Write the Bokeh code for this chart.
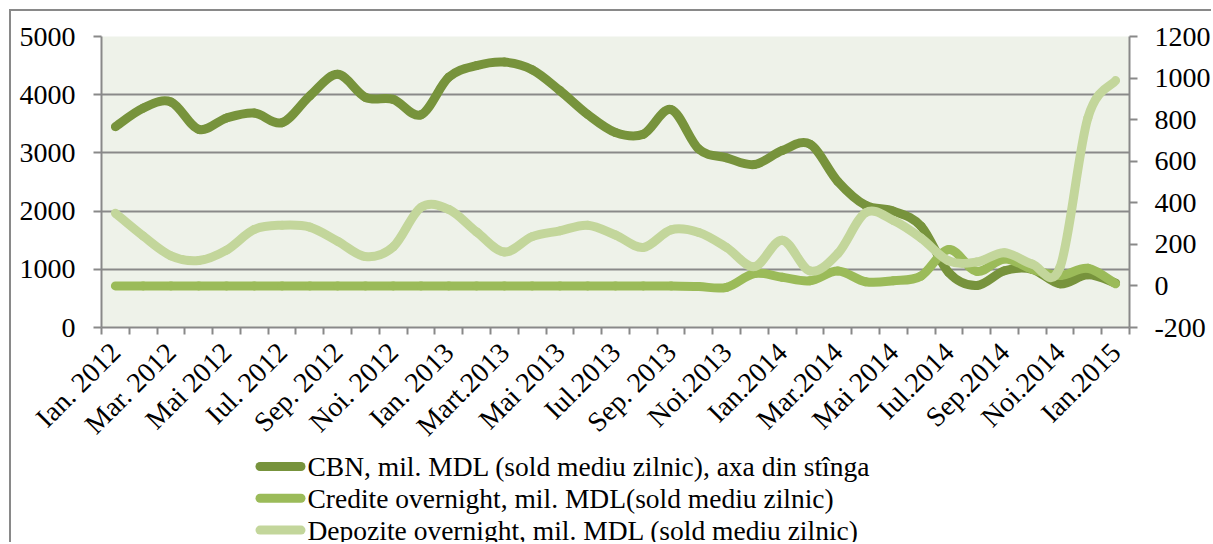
import math
from bokeh.plotting import figure
from bokeh.layouts import column
from bokeh.models import Range1d, LinearAxis, FixedTicker, ColumnDataSource
from bokeh.core.properties import value
from bokeh.embed import file_html
from bokeh.resources import INLINE

# ---------------- data ----------------
tick_labels = ["Ian. 2012", "Mar. 2012", "Mai 2012", "Iul. 2012", "Sep. 2012", "Noi. 2012",
               "Ian. 2013", "Mart.2013", "Mai 2013", "Iul.2013", "Sep. 2013", "Noi.2013",
               "Ian.2014", "Mar.2014", "Mai 2014", "Iul.2014", "Sep.2014", "Noi.2014", "Ian.2015"]

cbn = [3450, 3770, 3875, 3405, 3600, 3685, 3520, 3980, 4350, 3955, 3920, 3655,
       4300, 4500, 4560, 4430, 4070, 3660, 3350, 3320, 3745, 3065, 2915, 2800,
       3040, 3150, 2510, 2100, 2000, 1740, 940, 720, 975, 1000, 750, 905, 765]

credite = [0, 0, 0, 0, 0, 0, 0, 0, 0, 0, 0, 0,
           0, 0, 0, 0, 0, 0, 0, 0, 0, -3, -7, 60,
           42, 25, 72, 20, 25, 48, 175, 70, 130, 80, 50, 85, 10]

depozite = [350, 240, 145, 122, 172, 272, 292, 283, 215, 141, 188, 378,
            368, 260, 163, 237, 265, 292, 245, 185, 270, 257, 185, 93,
            220, 72, 155, 352, 315, 230, 120, 115, 160, 105, 90, 808, 988]

left_ticks = [0, 1000, 2000, 3000, 4000, 5000]
right_ticks = [-200, 0, 200, 400, 600, 800, 1000, 1200]

series_names = ["CBN, mil. MDL (sold mediu zilnic), axa din stînga",
                "Credite overnight, mil. MDL(sold mediu zilnic)",
                "Depozite overnight, mil. MDL (sold mediu zilnic)"]
colors = ["#77933C", "#9BBB59", "#C3D69B"]

n = len(cbn)
FONT = "Liberation Serif"
GRAY = "#898989"
W = 1202
MAIN_H = 444
LEG_H = 89
B_LEFT, B_RIGHT = 90, 84

p = figure(width=W, height=MAIN_H, output_backend="svg", toolbar_location=None,
           x_range=Range1d(0, n), y_range=Range1d(0, 5000),
           min_border_left=B_LEFT, min_border_right=B_RIGHT, min_border_top=25, min_border_bottom=118)
p.styles = {"margin-left": "9px", "margin-top": "9px",
            "border-left": "2px solid #898989", "border-top": "2px solid #898989"}
p.extra_y_ranges = {"right": Range1d(-200, 1200)}
p.background_fill_color = "#EEF2E9"
p.border_fill_color = "white"
p.outline_line_color = None

# bottom axis: labels at every other category centre, tick marks at boundaries
xa = p.xaxis[0]
xa.ticker = FixedTicker(ticks=[i + 0.5 for i in range(0, n, 2)],
                        minor_ticks=list(range(0, n + 1)))
xa.major_label_overrides = {i + 0.5: tick_labels[i // 2] for i in range(0, n, 2)}
xa.major_tick_out = 0
xa.major_tick_in = 0
xa.minor_tick_out = 7
xa.minor_tick_in = 0
xa.minor_tick_line_color = GRAY
xa.minor_tick_line_width = 2
xa.axis_line_color = GRAY
xa.axis_line_width = 2
xa.major_label_orientation = math.pi / 4
xa.major_label_text_font = FONT
xa.major_label_text_font_size = "28px"
xa.major_label_text_color = "black"
xa.major_label_standoff = 13

ya = p.yaxis[0]
ya.ticker = FixedTicker(ticks=left_ticks)
ya.major_tick_out = 8
ya.major_tick_in = 0
ya.minor_tick_line_color = None
ya.major_tick_line_color = GRAY
ya.major_tick_line_width = 2
ya.axis_line_color = GRAY
ya.axis_line_width = 2
ya.major_label_text_font = FONT
ya.major_label_text_font_size = "28px"
ya.major_label_text_color = "black"
ya.major_label_standoff = 18

ra = LinearAxis(y_range_name="right", ticker=FixedTicker(ticks=right_ticks))
ra.major_label_overrides = {t: str(t) for t in right_ticks}
ra.major_tick_out = 8
ra.major_tick_in = 0
ra.minor_tick_line_color = None
ra.major_tick_line_color = GRAY
ra.major_tick_line_width = 2
ra.axis_line_color = GRAY
ra.axis_line_width = 2
ra.major_label_text_font = FONT
ra.major_label_text_font_size = "28px"
ra.major_label_text_color = "black"
ra.major_label_standoff = 17
p.add_layout(ra, "right")

p.xgrid.grid_line_color = None
p.ygrid.ticker = FixedTicker(ticks=left_ticks)
p.ygrid.grid_line_color = GRAY
p.ygrid.grid_line_width = 2


def smooth_segments(vals):
    xs = [i + 0.5 for i in range(len(vals))]
    ys = list(vals)
    m = len(xs)
    d = dict(x0=[], y0=[], x1=[], y1=[], cx0=[], cy0=[], cx1=[], cy1=[])
    for i in range(m - 1):
        ip = max(i - 1, 0)
        inx = min(i + 2, m - 1)
        d["x0"].append(xs[i]); d["y0"].append(ys[i])
        d["x1"].append(xs[i + 1]); d["y1"].append(ys[i + 1])
        d["cx0"].append(xs[i] + (xs[i + 1] - xs[ip]) / 6.0)
        d["cy0"].append(ys[i] + (ys[i + 1] - ys[ip]) / 6.0)
        d["cx1"].append(xs[i + 1] - (xs[inx] - xs[i]) / 6.0)
        d["cy1"].append(ys[i + 1] - (ys[inx] - ys[i]) / 6.0)
    return ColumnDataSource(d)


LW = 9
for vals, col, rng in [(cbn, colors[0], "default"),
                       (credite, colors[1], "right"),
                       (depozite, colors[2], "right")]:
    src = smooth_segments(vals)
    p.bezier(x0="x0", y0="y0", x1="x1", y1="y1", cx0="cx0", cy0="cy0", cx1="cx1", cy1="cy1",
             source=src, line_color=col, line_width=LW, line_cap="round", y_range_name=rng)

# ---------------- legend (separate strip below the chart) ----------------
# its frame is aligned with the chart frame, so x is expressed in canvas pixels
leg = figure(width=W, height=LEG_H, output_backend="svg", toolbar_location=None,
             x_range=Range1d(B_LEFT, W - B_RIGHT), y_range=Range1d(LEG_H, 0),
             x_axis_type=None, y_axis_type=None,
             min_border_left=0, min_border_right=0, min_border_top=0, min_border_bottom=0)
leg.styles = {"margin-left": "9px", "border-left": "2px solid #898989"}
leg.outline_line_color = None
leg.background_fill_color = "white"
leg.border_fill_color = "white"
leg.xgrid.grid_line_color = None
leg.ygrid.grid_line_color = None

row0, row_step = 13, 31.8
sample_x0, sample_x1, text_x = 248.5, 289.5, 296
rows = [row0 + k * row_step for k in range(len(series_names))]
leg_src = ColumnDataSource(dict(
    x0=[sample_x0] * len(rows), x1=[sample_x1] * len(rows), y=rows,
    tx=[text_x] * len(rows), name=series_names, color=colors))
leg.segment(x0="x0", y0="y", x1="x1", y1="y", line_color="color", line_width=LW,
            line_cap="round", source=leg_src)
leg.text(x="tx", y="y", text="name", source=leg_src, text_font=value(FONT),
         text_font_size="27.5px", text_baseline="middle", text_align="left", text_color="black")

layout = column(p, leg, spacing=0)
open("out.html", "w").write(file_html(layout, INLINE))
